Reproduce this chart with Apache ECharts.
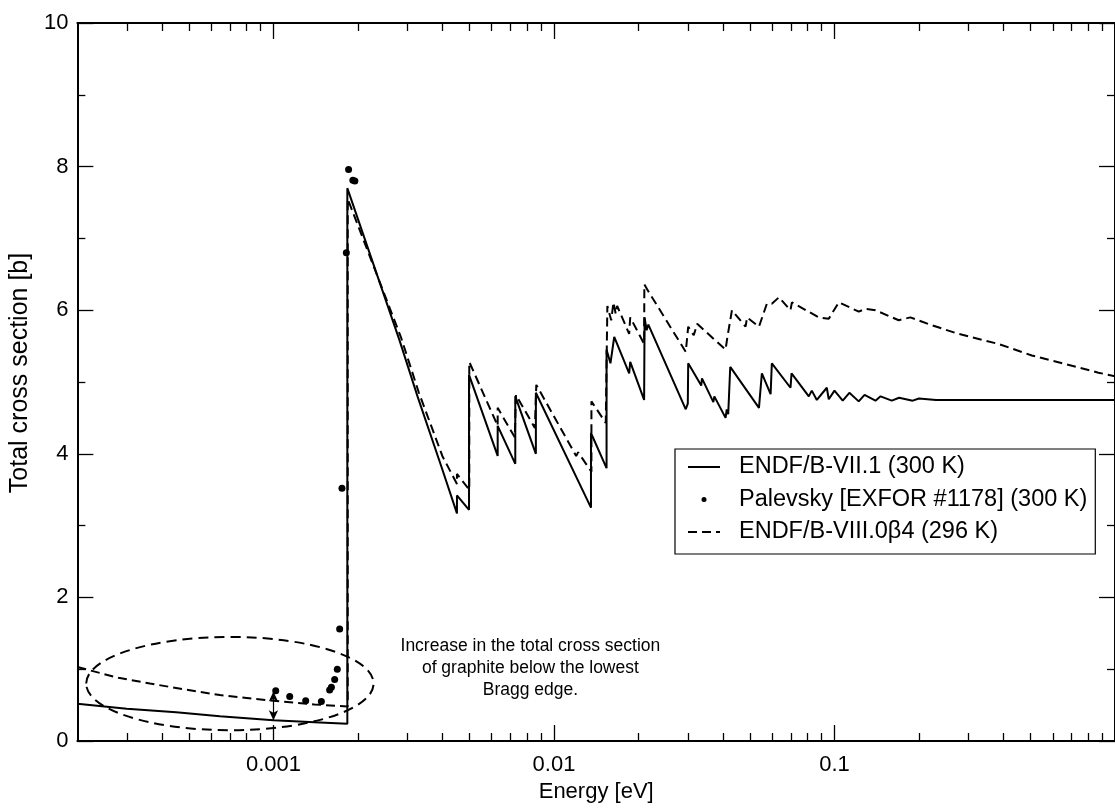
<!DOCTYPE html>
<html><head><meta charset="utf-8">
<script src="https://cdn.jsdelivr.net/npm/echarts@6/dist/echarts.min.js"></script>
<style>html,body{margin:0;padding:0;background:#fff}#c{width:1115px;height:808px}</style>
</head><body><div id="c"></div>
<script>
// ---------------- data ----------------
const energyMin = 2e-4, energyMax = 1;
const yMin = 0, yMax = 10, yStep = 2;
const xMajorTicks = [0.001, 0.01, 0.1];
const xMinorTicks = [3e-4, 4e-4, 5e-4, 6e-4, 7e-4, 8e-4, 9e-4,
  0.002, 0.003, 0.004, 0.005, 0.006, 0.007, 0.008, 0.009,
  0.02, 0.03, 0.04, 0.05, 0.06, 0.07, 0.08, 0.09,
  0.2, 0.3, 0.4, 0.5, 0.6, 0.7, 0.8, 0.9];
const seriesNames = ['ENDF/B-VII.1 (300 K)', 'Palevsky [EXFOR #1178] (300 K)', 'ENDF/B-VIII.0\u03b24 (296 K)'];
const xTitle = 'Energy [eV]';
const yTitle = 'Total cross section [b]';
const annotationLines = ['Increase in the total cross section', 'of graphite below the lowest', 'Bragg edge.'];

// ENDF/B-VII.1 (300 K)  [energy eV, cross section b]
const endf71 = [
  [2.0e-4, 0.52], [3.0e-4, 0.45], [4.5e-4, 0.40], [6.44e-4, 0.345], [1.0e-3, 0.29], [1.4e-3, 0.26],
  [1.834e-3, 0.24], [1.834e-3, 7.70], [2.815e-3, 5.58], [3.263e-3, 4.80], [3.962e-3, 3.83],
  [4.51e-3, 3.17], [4.51e-3, 3.42], [4.98e-3, 3.22], [4.98e-3, 5.10],
  [6.3e-3, 3.97], [6.3e-3, 4.39], [7.28e-3, 3.86], [7.28e-3, 4.80], [8.62e-3, 4.00], [8.62e-3, 4.85],
  [0.01355, 3.25], [0.01355, 4.29], [0.0154, 3.80], [0.0154, 5.45], [0.0159, 5.26], [0.0164, 5.63],
  [0.01854, 5.12], [0.0187, 5.28], [0.02096, 4.75], [0.02104, 5.90], [0.0214, 5.72], [0.0217, 5.80],
  [0.0295, 4.62], [0.0300, 4.70], [0.0301, 5.26], [0.0335, 4.95], [0.0337, 5.05], [0.0370, 4.72],
  [0.0373, 4.80], [0.0409, 4.50], [0.0413, 4.62], [0.0418, 4.55], [0.0425, 5.21], [0.0538, 4.64],
  [0.0551, 5.12], [0.0592, 4.83], [0.0598, 5.26], [0.0697, 4.92], [0.0703, 5.12], [0.0810, 4.80],
  [0.0830, 4.88], [0.0865, 4.75], [0.0939, 4.92], [0.0954, 4.76], [0.100, 4.88], [0.107, 4.74],
  [0.113, 4.85], [0.122, 4.73], [0.128, 4.82], [0.140, 4.74], [0.146, 4.80], [0.160, 4.74],
  [0.170, 4.78], [0.19, 4.74], [0.20, 4.77], [0.23, 4.75], [1.0, 4.75]
];

// ENDF/B-VIII.0 beta4 (296 K)
const endf80b4 = [
  [2.0e-4, 1.03], [2.8e-4, 0.88], [3.63e-4, 0.80], [4.8e-4, 0.72], [6.44e-4, 0.64], [1.0e-3, 0.56],
  [1.4e-3, 0.51], [1.84e-3, 0.48], [1.84e-3, 7.55], [2.85e-3, 5.62], [3.3e-3, 4.85], [4.0e-3, 3.97],
  [4.51e-3, 3.58], [4.51e-3, 3.72], [4.99e-3, 3.50], [4.99e-3, 5.28], [6.3e-3, 4.39], [6.3e-3, 4.64],
  [7.25e-3, 4.23], [7.32e-3, 4.82], [8.55e-3, 4.36], [8.65e-3, 4.96], [0.0120, 3.97], [0.0122, 4.02],
  [0.0136, 3.75], [0.0136, 4.73], [0.0153, 4.43], [0.0155, 6.06], [0.0160, 5.86], [0.0163, 6.11],
  [0.0166, 5.95], [0.0168, 6.06], [0.01854, 5.67], [0.0187, 5.90], [0.02096, 5.53], [0.0210, 6.36],
  [0.0218, 6.25], [0.0295, 5.42], [0.0301, 5.77], [0.0315, 5.65], [0.0324, 5.81], [0.0409, 5.45],
  [0.0415, 5.62], [0.0431, 6.00], [0.0482, 5.77], [0.0488, 5.90], [0.0538, 5.77], [0.0574, 6.09],
  [0.0598, 6.09], [0.0634, 6.18], [0.0697, 6.00], [0.0705, 6.11], [0.0879, 5.90], [0.0954, 5.88],
  [0.1036, 6.11], [0.1221, 5.98], [0.1289, 6.02], [0.140, 6.00], [0.1694, 5.86], [0.1864, 5.90],
  [0.2225, 5.79], [0.2769, 5.67], [0.3843, 5.53], [0.505, 5.37], [0.8724, 5.13], [1.0, 5.08]
];

// Palevsky [EXFOR #1178] measured points
const palevsky = [
  [1.019e-3, 0.70], [1.143e-3, 0.62], [1.303e-3, 0.56], [1.482e-3, 0.55], [1.586e-3, 0.71],
  [1.609e-3, 0.75], [1.653e-3, 0.855], [1.689e-3, 1.00], [1.722e-3, 1.56], [1.755e-3, 3.52],
  [1.819e-3, 6.80], [1.853e-3, 7.96], [1.919e-3, 7.81], [1.951e-3, 7.80]
];

// annotation anchors (data coordinates)
const arrowFrom = [0.001, 0.69], arrowTo = [0.001, 0.29];
const ellipseBox = { eLeft: 2.15e-4, eRight: 2.275e-3, vTop: 1.45, vBottom: 0.15 };
const textAnchor = [8.24e-3, 1.47];

// ---------------- chart ----------------
const FONT = 'Liberation Sans';
const BLACK = '#000';
const chart = echarts.init(document.getElementById('c'), null, { renderer: 'canvas' });

const baseX = { type: 'log', logBase: 10, min: energyMin, max: energyMax, gridIndex: 0, splitLine: { show: false } };
function xAx(pos, ticks, len, showLine, extra) {
  return Object.assign({}, baseX, {
    position: pos,
    axisLine: { show: showLine, lineStyle: { color: BLACK, width: 2 } },
    axisTick: { show: true, inside: true, length: len, customValues: ticks, lineStyle: { color: BLACK, width: 1.3 } },
    axisLabel: { show: false },
    minorTick: { show: false }
  }, extra || {});
}
function yAx(pos, showLabel, extra) {
  return Object.assign({
    type: 'value', position: pos, min: yMin, max: yMax, interval: yStep,
    axisLine: { show: true, lineStyle: { color: BLACK, width: 2 } },
    axisTick: { show: true, inside: true, length: 16, lineStyle: { color: BLACK, width: 1.3 } },
    minorTick: { show: true, splitNumber: 2, length: 8, lineStyle: { color: BLACK, width: 1.3 } },
    splitLine: { show: false },
    axisLabel: { show: showLabel, color: BLACK, fontSize: 22, fontFamily: FONT, margin: 9 }
  }, extra || {});
}
const noSymbol = { color: 'rgba(0,0,0,0)', borderColor: 'rgba(0,0,0,0)', borderWidth: 0 };

const option = {
  animation: false,
  backgroundColor: '#fff',
  grid: { left: 77, top: 23, width: 1040, height: 725, containLabel: false },
  xAxis: [
    xAx('bottom', xMajorTicks, 16, true, {
      axisLabel: { show: true, customValues: xMajorTicks, formatter: v => String(+v.toPrecision(3)),
        color: BLACK, fontSize: 22, fontFamily: FONT, margin: 13 },
      name: xTitle, nameLocation: 'middle', nameGap: 40,
      nameTextStyle: { color: BLACK, fontSize: 22, fontFamily: FONT }
    }),
    xAx('bottom', xMinorTicks, 8, false),
    xAx('top', xMajorTicks, 16, true),
    xAx('top', xMinorTicks, 8, false)
  ],
  yAxis: [
    yAx('left', true, { name: yTitle, nameLocation: 'middle', nameGap: 43,
      nameTextStyle: { color: BLACK, fontSize: 25, fontFamily: FONT, padding: [0, 0, 0, 18] } }),
    yAx('right', false)
  ],
  legend: {
    orient: 'vertical', left: 675, top: 449,
    backgroundColor: '#fff', borderColor: BLACK, borderWidth: 1.2, borderRadius: 0,
    padding: [6, 8, 10, 12], itemGap: 8.5, itemWidth: 32, itemHeight: 5,
    selectedMode: false,
    textStyle: { color: BLACK, fontSize: 23.5, fontFamily: FONT, padding: [0, 0, 0, 14] },
    data: [
      { name: seriesNames[0], itemStyle: noSymbol },
      { name: seriesNames[1], icon: 'circle' },
      { name: seriesNames[2], itemStyle: noSymbol }
    ]
  },
  series: [
    {
      name: seriesNames[0], type: 'line', data: endf71, showSymbol: false, symbol: 'none',
      lineStyle: { color: BLACK, width: 2 }, itemStyle: { color: BLACK }, z: 3,
      markLine: {
        silent: true, symbol: ['arrow', 'arrow'], symbolSize: [7, 10], animation: false,
        label: { show: false }, lineStyle: { color: BLACK, type: 'solid', width: 1.2 },
        emphasis: { disabled: true },
        data: [[{ coord: arrowFrom }, { coord: arrowTo }]]
      }
    },
    {
      name: seriesNames[1], type: 'scatter', data: palevsky, symbol: 'circle', symbolSize: 7,
      itemStyle: { color: BLACK, opacity: 1 }, z: 5
    },
    {
      name: seriesNames[2], type: 'line', data: endf80b4, showSymbol: false, symbol: 'none',
      lineStyle: { color: BLACK, width: 2, type: [9, 5] }, itemStyle: { color: BLACK }, z: 4
    }
  ]
};
chart.setOption(option);

// annotation shapes positioned through the chart's own coordinate conversion
const pTL = chart.convertToPixel({ gridIndex: 0 }, [ellipseBox.eLeft, ellipseBox.vTop]);
const pBR = chart.convertToPixel({ gridIndex: 0 }, [ellipseBox.eRight, ellipseBox.vBottom]);
const pText = chart.convertToPixel({ gridIndex: 0 }, textAnchor);
chart.setOption({
  graphic: [
    {
      type: 'ellipse', silent: true, z: 10,
      shape: { cx: (pTL[0] + pBR[0]) / 2, cy: (pTL[1] + pBR[1]) / 2, rx: (pBR[0] - pTL[0]) / 2, ry: (pBR[1] - pTL[1]) / 2 },
      style: { fill: null, stroke: BLACK, lineWidth: 2, lineDash: [10, 6] }
    },
    {
      type: 'text', silent: true, z: 10, x: pText[0], y: pText[1],
      style: { text: annotationLines.join('\n'), fill: BLACK, font: '17.5px "Liberation Sans"',
        textAlign: 'center', textVerticalAlign: 'top', lineHeight: 21.7 }
    }
  ]
});
</script>
</body></html>
